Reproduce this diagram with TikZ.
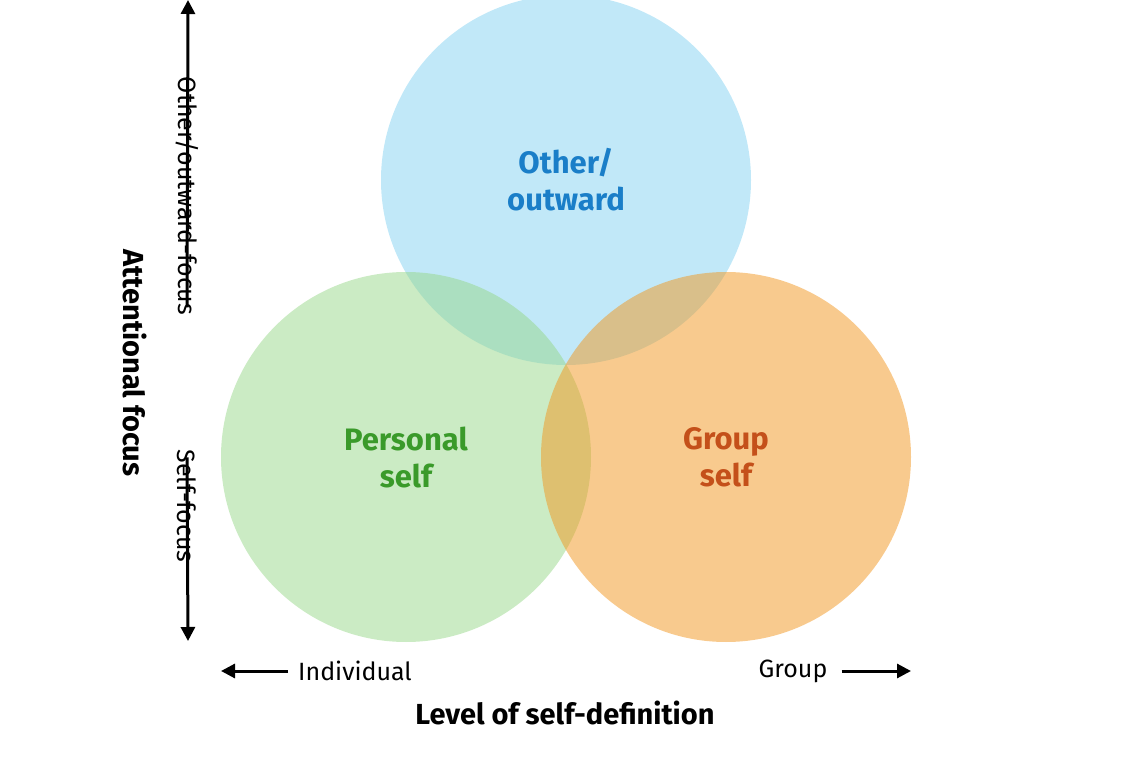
\documentclass[tikz,border=0pt]{standalone}
\usepackage{fontspec}
\setmainfont{Fira Sans}
\usetikzlibrary{arrows.meta}
\definecolor{cblue}{RGB}{131,210,241}
\definecolor{cgreen}{RGB}{151,215,137}
\definecolor{corange}{RGB}{242,150,30}
\definecolor{tblue}{RGB}{26,126,200}
\definecolor{tgreen}{RGB}{58,154,42}
\definecolor{torange}{RGB}{196,80,26}
\tikzset{
 circ/.style={circle,minimum size=370pt,inner sep=0pt,fill opacity=0.5,text opacity=1,align=center,font=\fontsize{31}{37}\selectfont\bfseries},
 lab/.style={font=\fontsize{25}{30}\selectfont,inner sep=0pt},
 axl/.style={font=\fontsize{29}{34}\selectfont\bfseries,inner sep=0pt},
 arr/.style={line width=3pt,-{Triangle[length=14pt,width=14pt]}}
}
\begin{document}
\begin{tikzpicture}[x=1pt,y=-1pt]
\useasboundingbox (0,0) rectangle (1144,778);
\node[circ,fill=cblue,text=tblue] (o) at (566,180) {\raisebox{-8pt}{}Other/\\outward};
\node[circ,fill=cgreen,text=tgreen] (p) at (406,457) {Personal\\self};
\node[circ,fill=corange,text=torange] (g) at (726,457) {Group\\self};
\node[lab,rotate=-90] (of) at (187,196) {Other/outward-focus};
\node[lab,rotate=-90] (sf) at (187,506) {Self-focus};
\node[axl,rotate=-90] (af) at (135,363) {Attentional focus};
\coordinate (top) at (188,0);
\coordinate (bot) at (188,641);
\draw[arr] (of.east) ++(0,-8) -- (top);
\draw[arr] (sf.west) ++(0,8) -- (bot);
\node[lab] (ind) at (355,671) {Individual};
\node[lab] (grp) at (793,671) {Group};
\coordinate (left) at (221,671);
\coordinate (right) at (911,671);
\draw[arr] (ind.west) ++(-10,0) -- (left);
\draw[arr] (grp.east) ++(14,0) -- (right);
\node[axl] (lsd) at (565,713) {Level of self-definition};
\end{tikzpicture}
\end{document}
